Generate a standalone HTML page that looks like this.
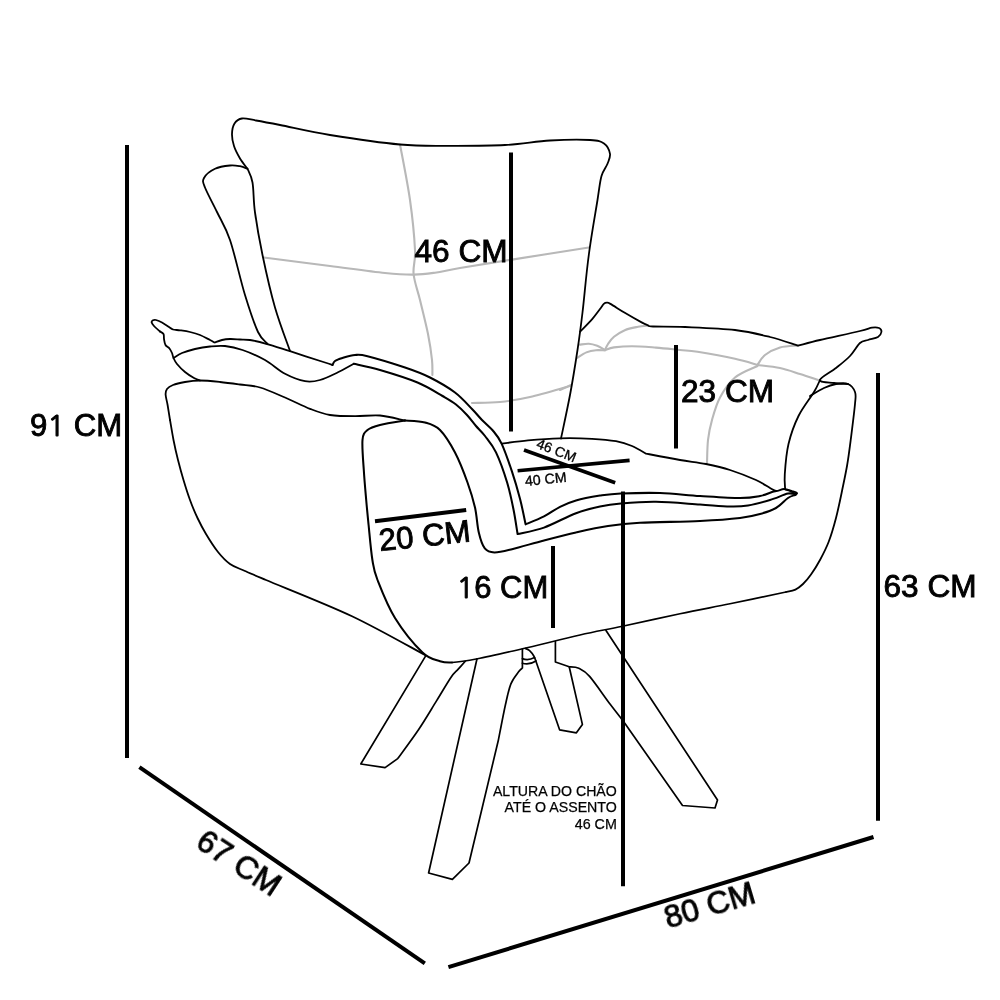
<!DOCTYPE html>
<html lang="pt-BR"><head><meta charset="utf-8"><title>Poltrona - Medidas</title>
<style>html,body{margin:0;padding:0;background:#fff}body{width:1000px;height:1000px;overflow:hidden}svg{display:block}</style>
</head><body>
<svg width="1000" height="1000" viewBox="0 0 1000 1000">
<g fill="none" stroke="#b8b8b8" stroke-width="2.1" stroke-linecap="round">
<path d="M400.0 144.5C401.7 153.8 407.5 182.4 410.0 200.0C412.5 217.6 414.4 237.7 415.0 250.0C415.6 262.3 412.8 265.7 413.6 274.0C414.4 282.3 417.6 290.0 420.0 300.0C422.4 310.0 426.0 324.0 428.0 334.0C430.0 344.0 431.3 353.2 432.0 360.0C432.7 366.8 432.3 372.5 432.4 375.0"/>
<path d="M263.8 257.5C274.8 258.9 309.8 263.4 330.0 266.0C350.2 268.6 371.0 271.6 385.0 273.0C399.0 274.4 405.7 274.7 414.0 274.6C422.3 274.6 427.3 273.8 435.0 272.7C442.7 271.6 447.2 270.2 460.0 268.0C472.8 265.8 490.5 263.0 512.0 259.6C533.5 256.2 576.0 249.5 588.8 247.5"/>
<path d="M472.0 403.0C476.7 402.8 490.3 403.0 500.0 402.0C509.7 401.0 518.3 399.7 530.0 397.0C541.7 394.3 563.3 387.8 570.0 386.0"/>
<path d="M579.8 344.6C581.3 344.5 585.9 343.6 588.8 343.8C591.7 344.0 594.5 344.8 597.2 345.8C599.9 346.8 603.7 349.3 605.0 350.0"/>
<path d="M577.4 357.8C578.9 356.9 583.3 353.7 586.4 352.4C589.5 351.1 592.9 350.5 596.0 350.2C599.1 349.9 603.5 350.4 605.0 350.4"/>
<path d="M605.0 350.0C605.5 349.0 606.5 346.2 608.0 344.0C609.5 341.8 611.2 339.1 614.0 336.8C616.8 334.5 620.8 331.9 624.8 330.2C628.8 328.5 634.1 327.6 638.0 326.8C641.9 326.0 646.3 325.8 648.0 325.6"/>
<path d="M605.0 350.0C606.5 349.6 609.5 348.0 614.0 347.4C618.5 346.8 625.0 346.2 632.0 346.2C639.0 346.2 648.0 347.0 656.0 347.6C664.0 348.2 673.1 349.3 680.0 350.0C686.9 350.7 688.3 350.3 697.5 351.8C706.7 353.3 725.0 356.6 735.0 358.8C745.0 360.9 753.8 364.0 757.5 365.0C758.8 363.3 761.2 357.9 765.0 355.0C768.8 352.1 774.5 349.1 780.0 347.5C785.5 345.9 795.0 345.9 798.0 345.6"/>
<path d="M757.5 365.0C761.2 365.5 772.9 366.5 780.0 368.0C787.1 369.5 793.7 372.0 800.0 374.0C806.3 376.0 815.0 379.0 818.0 380.0"/>
<path d="M757.5 366.0C753.8 367.9 741.2 372.2 735.0 377.5C728.8 382.8 723.8 390.4 720.0 397.5C716.2 404.6 714.0 412.9 712.0 420.0C710.0 427.1 708.8 432.8 708.0 440.0C707.2 447.2 707.2 459.2 707.0 463.0"/>
<path d="M560.0 390.0C561.8 389.2 569.2 385.8 571.0 385.0"/>
</g>
<g fill="none" stroke="#000" stroke-width="1.8" stroke-linejoin="round" stroke-linecap="round">
<path d="M290.0 351.0C287.5 343.8 279.6 323.5 275.0 307.5C270.4 291.5 265.8 270.8 262.5 255.0C259.2 239.2 256.7 224.6 255.0 212.5C253.3 200.4 253.8 189.8 252.5 182.5C251.2 175.2 248.3 171.0 247.5 168.8C246.2 167.0 242.2 162.3 240.0 158.5C237.8 154.7 235.3 150.1 234.0 146.0C232.7 141.9 231.9 137.8 232.0 134.0C232.1 130.2 232.8 126.1 234.5 123.5C236.2 120.9 238.4 119.0 242.0 118.5C245.6 118.0 249.7 119.4 256.0 120.5C262.3 121.6 267.7 122.6 280.0 125.0C292.3 127.4 310.0 131.8 330.0 135.0C350.0 138.2 380.0 142.7 400.0 144.5C420.0 146.3 432.5 145.7 450.0 145.8C467.5 145.8 488.3 145.9 505.0 145.0C521.7 144.1 535.8 141.3 550.0 140.5C564.2 139.7 581.0 139.5 590.0 140.0C599.0 140.5 600.7 141.2 604.0 143.5C607.3 145.8 609.4 150.4 610.0 153.8C610.6 157.1 608.9 160.0 607.5 163.8C606.1 167.5 603.2 170.0 601.5 176.0C599.8 182.0 599.6 186.8 597.5 200.0C595.4 213.2 591.2 236.2 588.8 255.0C586.2 273.8 584.4 296.7 582.5 312.5C580.6 328.3 579.6 336.2 577.5 350.0C575.4 363.8 572.8 380.2 570.0 395.0C567.2 409.8 562.5 431.2 561.0 438.5"/>
<path d="M247.5 168.8C246.2 168.3 242.9 166.7 240.0 166.2C237.1 165.7 234.2 165.1 230.0 165.5C225.8 165.9 219.3 166.7 215.0 168.8C210.7 170.8 205.7 174.9 204.0 178.0C202.3 181.1 202.8 181.8 205.0 187.5C207.2 193.2 212.8 203.2 217.0 212.0C221.2 220.8 225.3 226.2 230.0 240.0C234.7 253.8 240.3 279.7 245.0 295.0C249.7 310.3 254.2 323.9 258.0 332.0C261.8 340.1 265.9 341.8 267.5 343.8"/>
<path d="M160.0 331.5C159.0 330.6 155.4 327.6 154.0 326.0C152.6 324.4 151.8 323.1 151.6 322.2C151.4 321.2 152.3 320.7 153.0 320.3C153.7 319.9 154.5 319.6 156.0 320.0C157.5 320.4 159.8 321.3 162.0 322.5C164.2 323.7 167.2 325.8 169.0 327.0C170.8 328.2 171.2 328.9 173.0 329.5C174.8 330.1 177.2 329.9 180.0 330.3C182.8 330.7 186.7 331.2 190.0 332.0C193.3 332.8 196.7 333.7 200.0 335.0C203.3 336.3 207.6 338.8 210.0 340.0C212.4 341.2 213.8 342.1 214.5 342.5C215.8 342.1 219.4 340.6 222.0 340.0C224.6 339.4 227.0 339.1 230.0 339.0C233.0 338.9 236.7 339.3 240.0 339.5C243.3 339.7 245.6 339.3 250.0 340.0C254.4 340.7 259.6 341.9 266.2 343.8C272.9 345.6 280.2 348.1 290.0 351.2C299.8 354.4 317.9 360.2 325.0 362.5C332.1 364.8 331.2 364.6 332.5 365.0"/>
<path d="M160.0 331.5C160.6 331.9 162.8 332.8 163.5 334.0C164.2 335.2 163.7 337.2 164.0 339.0C164.3 340.8 164.6 343.4 165.5 345.0C166.4 346.6 168.4 347.2 169.5 348.5C170.6 349.8 171.3 351.4 172.0 353.0C172.7 354.6 172.7 356.2 173.5 358.0C174.3 359.8 175.1 361.7 177.0 364.0C178.9 366.3 182.2 369.7 185.0 372.0C187.8 374.3 191.5 376.6 194.0 378.0C196.5 379.4 199.0 380.1 200.0 380.5"/>
<path d="M173.5 358.0C174.9 357.2 178.4 354.5 182.0 353.0C185.6 351.5 190.3 350.1 195.0 349.0C199.7 347.9 205.0 347.0 210.0 346.5C215.0 346.0 219.6 345.4 225.0 346.0C230.4 346.6 235.8 347.7 242.5 350.0C249.2 352.3 257.9 356.0 265.0 360.0C272.1 364.0 278.3 370.2 285.0 373.8C291.7 377.3 299.2 380.2 305.0 381.2C310.8 382.3 314.6 381.5 320.0 380.0C325.4 378.5 331.9 375.2 337.5 372.5C343.1 369.8 351.0 365.2 353.8 363.8"/>
<path d="M501.6 443.6C506.0 443.1 518.3 441.3 528.0 440.4C537.7 439.5 549.3 438.6 560.0 438.3C570.7 438.0 582.7 438.3 592.0 438.8C601.3 439.3 609.3 440.0 616.0 441.2C622.7 442.4 627.0 443.9 632.0 446.0C637.0 448.1 643.7 452.3 646.0 453.6C651.7 454.7 670.0 458.3 680.0 460.0C690.0 461.7 697.7 462.3 706.0 464.0C714.3 465.7 721.7 467.3 730.0 470.0C738.3 472.7 749.3 477.0 756.0 480.0C762.7 483.0 766.7 486.2 770.0 488.0C773.3 489.8 773.7 490.8 776.0 491.0C778.3 491.2 781.3 489.0 784.0 489.0C786.7 489.0 789.8 490.3 792.0 491.0C794.2 491.7 796.5 492.3 797.0 493.0C797.5 493.7 795.3 494.7 795.0 495.0"/>
<path d="M170.0 420.0C169.6 417.5 168.3 409.2 167.6 405.0C166.9 400.8 165.7 397.2 165.6 394.5C165.5 391.8 165.8 390.6 167.0 389.0C168.2 387.4 170.0 386.2 173.0 385.0C176.0 383.8 180.5 382.8 185.0 382.0C189.5 381.2 194.2 380.5 200.0 380.5C205.8 380.5 213.3 381.3 220.0 382.0C226.7 382.7 233.3 383.6 240.0 384.5C246.7 385.4 252.5 385.3 260.0 387.5C267.5 389.7 276.7 394.0 285.0 397.5C293.3 401.0 302.5 405.8 310.0 408.8C317.5 411.7 322.5 413.8 330.0 415.0C337.5 416.2 346.7 416.2 355.0 416.2C363.3 416.3 371.7 414.8 380.0 415.5C388.3 416.2 400.8 419.7 405.0 420.5"/>
<path d="M170.0 420.0C170.6 423.3 172.2 433.3 173.5 440.0C174.8 446.7 176.3 453.3 178.0 460.0C179.7 466.7 181.5 473.3 183.5 480.0C185.5 486.7 187.7 493.7 190.0 500.0C192.3 506.3 194.8 512.3 197.5 518.0C200.2 523.7 202.6 528.3 206.0 534.0C209.4 539.7 214.0 547.0 218.0 552.0C222.0 557.0 225.5 560.8 230.0 564.0C234.5 567.2 239.0 568.3 245.0 571.0C251.0 573.7 248.2 572.5 266.0 580.0C283.8 587.5 325.5 603.8 352.0 616.2C378.5 628.8 412.8 648.5 425.0 655.0"/>
<path d="M820.0 380.0C819.0 382.0 817.6 386.0 814.0 392.0C810.4 398.0 802.8 407.3 798.5 416.0C794.2 424.7 790.8 434.3 788.5 444.0C786.2 453.7 785.3 466.4 784.8 474.0C784.2 481.6 785.1 486.9 785.2 489.5C786.0 489.8 788.2 490.2 790.0 491.0C791.8 491.8 795.0 493.5 796.0 494.0"/>
<path d="M810.0 396.0C812.3 394.7 819.7 390.0 824.0 388.0C828.3 386.0 832.0 384.7 836.0 384.0C840.0 383.3 844.8 382.7 848.0 384.0C851.2 385.3 853.8 388.7 855.0 392.0C856.2 395.3 855.7 396.0 855.0 404.0C854.3 412.0 852.0 429.7 850.7 440.0C849.4 450.3 848.5 457.5 847.0 466.0C845.5 474.5 843.8 482.3 842.0 491.0C840.2 499.7 838.2 509.5 836.0 518.0C833.8 526.5 831.3 535.0 828.6 542.0C825.9 549.0 822.9 554.6 820.0 560.0C817.1 565.4 813.8 570.5 811.0 574.5C808.2 578.5 805.6 581.5 803.0 584.0C800.4 586.5 798.2 588.3 795.4 589.6C792.6 590.9 787.6 591.6 786.0 592.0"/>
<path d="M580.2 331.6C582.2 329.5 589.0 322.7 592.4 318.8C595.8 314.9 598.9 310.5 600.8 308.0C602.7 305.5 602.8 304.8 603.8 303.9C604.8 303.0 605.7 302.7 606.8 302.7C607.9 302.7 607.4 302.2 610.4 303.9C613.4 305.6 619.6 309.7 624.8 312.8C630.0 315.9 637.8 320.3 641.6 322.4C645.4 324.5 645.7 324.5 647.6 325.2C649.5 325.9 646.8 326.2 653.0 326.5C659.2 326.8 671.3 326.4 685.0 327.0C698.7 327.6 720.8 328.3 735.0 330.0C749.2 331.7 759.5 334.4 770.0 337.0C780.5 339.6 793.3 344.2 798.0 345.6C801.7 344.7 809.7 342.4 820.0 340.0C830.3 337.6 851.3 333.1 860.0 331.0C868.7 328.9 868.8 328.1 872.0 327.6C875.2 327.1 877.4 327.3 879.0 328.0C880.6 328.7 881.6 330.5 881.4 332.0C881.2 333.5 880.2 335.7 878.0 337.0C875.8 338.3 871.0 339.0 868.0 340.0C865.0 341.0 863.0 340.3 860.0 343.0C857.0 345.7 854.0 351.8 850.0 356.0C846.0 360.2 841.0 364.0 836.0 368.0C831.0 372.0 820.3 377.5 820.0 380.0C819.7 382.5 829.3 382.3 834.0 383.0C838.7 383.7 845.7 383.8 848.0 384.0"/>
<path stroke-width="2.05" d="M332.5 365.0C332.9 364.3 333.3 362.2 335.0 361.0C336.7 359.8 339.2 359.0 342.5 358.0C345.8 357.0 350.8 355.3 355.0 355.0C359.2 354.7 359.2 354.2 367.5 356.2C375.8 358.3 394.6 364.0 405.0 367.5C415.4 371.0 421.7 373.3 430.0 377.5C438.3 381.7 448.0 387.2 455.0 392.5C462.0 397.8 467.5 404.4 472.0 409.0C476.5 413.6 478.5 416.4 482.0 420.0C485.5 423.6 489.5 426.6 492.8 430.5C496.1 434.4 498.4 436.8 501.6 443.6C504.8 450.5 508.9 462.4 512.0 471.6C515.1 480.8 517.7 490.0 520.0 498.8C522.3 507.6 524.7 520.1 525.6 524.4C528.7 523.1 538.3 519.3 544.0 516.4C549.7 513.5 554.7 509.5 560.0 506.8C565.3 504.1 569.3 502.3 576.0 500.4C582.7 498.5 592.5 496.8 600.0 495.6C607.5 494.5 610.8 493.9 620.8 493.5C630.8 493.1 646.8 492.6 660.0 493.0C673.2 493.4 686.7 495.2 700.0 496.0C713.3 496.8 730.0 498.0 740.0 498.0C750.0 498.0 754.7 497.0 760.0 496.0C765.3 495.0 769.3 492.8 772.0 492.0C774.7 491.2 775.3 491.2 776.0 491.0"/>
<path stroke-width="2.05" d="M353.8 363.8C358.1 364.8 369.4 366.9 380.0 370.0C390.6 373.1 407.1 378.2 417.5 382.5C427.9 386.8 436.1 392.3 442.5 396.0C448.9 399.7 451.9 401.3 456.0 404.5C460.1 407.7 463.7 411.4 467.0 415.0C470.3 418.6 473.0 422.5 476.0 426.0C479.0 429.5 481.7 431.6 485.0 436.0C488.3 440.4 492.3 444.6 496.0 452.4C499.7 460.2 504.3 473.2 507.2 482.8C510.1 492.4 511.9 501.5 513.6 510.0C515.3 518.5 516.9 530.0 517.6 534.0C522.0 532.9 534.3 531.1 544.0 527.6C553.7 524.1 566.7 516.7 576.0 513.2C585.3 509.7 592.5 508.1 600.0 506.5C607.5 504.9 611.5 504.3 620.8 503.5C630.1 502.7 642.8 501.6 656.0 501.8C669.2 502.0 687.7 503.7 700.0 504.5C712.3 505.3 722.0 506.3 730.0 506.5C738.0 506.7 741.3 506.6 748.0 505.5C754.7 504.4 763.3 502.0 770.0 500.0C776.7 498.0 783.7 494.5 788.0 493.6C792.3 492.7 794.7 494.4 796.0 494.5"/>
<path stroke-width="2.05" d="M405.0 420.5C400.8 421.2 386.2 423.4 380.0 425.0C373.8 426.6 370.4 427.5 367.5 430.0C364.6 432.5 363.1 433.3 362.5 440.0C361.9 446.7 363.1 460.0 363.8 470.0C364.4 480.0 365.4 490.8 366.2 500.0C367.0 509.2 367.6 515.0 368.6 525.0C369.6 535.0 370.9 550.8 372.4 560.0C373.9 569.2 373.7 570.3 377.5 580.0C381.3 589.7 387.5 605.9 395.0 618.0C402.5 630.1 415.0 645.3 422.5 652.5C430.0 659.7 435.1 659.6 440.0 661.2C444.9 662.9 445.8 662.9 452.0 662.5"/>
<path stroke-width="2.05" d="M405.0 420.5C408.3 420.8 419.2 420.9 425.0 422.5C430.8 424.1 435.0 425.0 440.0 430.0C445.0 435.0 450.4 443.8 455.0 452.5C459.6 461.2 464.2 473.3 467.5 482.5C470.8 491.7 473.1 499.2 475.0 507.5C476.9 515.8 477.1 525.7 478.8 532.5C480.4 539.3 482.2 545.1 484.8 548.4C487.4 551.7 489.9 552.3 494.4 552.4C498.9 552.5 503.7 551.2 512.0 549.2C520.3 547.2 533.3 543.2 544.0 540.4C554.7 537.6 565.3 534.8 576.0 532.4C586.7 530.0 597.3 527.6 608.0 526.0C618.7 524.4 624.7 523.6 640.0 522.8C655.3 522.0 683.3 521.8 700.0 521.0C716.7 520.2 730.0 519.2 740.0 518.0C750.0 516.8 754.0 515.7 760.0 514.0C766.0 512.3 771.3 510.7 776.0 508.0C780.7 505.3 784.8 500.2 788.0 498.0C791.2 495.8 793.8 495.5 795.0 495.0"/>
<path stroke-width="1.6" d="M452.0 662.5C458.2 662.1 465.8 661.0 477.5 658.8C489.2 656.5 505.4 652.7 522.5 648.8C539.6 644.8 563.3 638.8 580.0 635.0C596.7 631.2 605.8 629.8 622.5 626.2C639.2 622.7 662.1 617.5 680.0 613.8C697.9 610.0 712.3 607.4 730.0 603.8C747.7 600.1 776.7 594.0 786.0 592.0"/>
</g>
<g fill="none" stroke="#000" stroke-width="1.7" stroke-linejoin="round" stroke-linecap="round">
<path d="M425.7 655.9L360.8 764L385.1 767.6L397.7 758.6C401.2 753.8 412.0 739.3 418.5 729.7C425.0 720.1 431.1 709.6 436.5 700.9C441.9 692.2 447.3 682.8 450.9 677.5C454.5 672.2 455.6 672.1 458.0 669.4C460.4 666.7 464.1 662.6 465.3 661.3"/>
<path d="M477.0 658.8L428.6 873.0L452.4 879.4L469.0 863.0L498.4 740.0M498.4 740.0C499.6 734.0 503.5 713.4 505.6 704.0C507.7 694.6 508.8 689.0 511.0 683.6C513.2 678.2 516.9 674.2 518.8 671.6C520.7 669.0 521.8 668.6 522.4 668.0L522.4 649"/>
<path d="M525.5 648.5C526.2 648.9 528.2 649.4 529.6 650.6C531.0 651.9 532.7 654.1 533.8 656.0C534.9 657.9 535.8 661.0 536.2 662.0L559.6 729.8L576.4 732.8L582.4 724.4L569.2 666.8L555.4 662L555.4 641.6"/>
<path d="M522.4 658.6Q528 661 534.6 657.6M522.4 663.2Q529 665.4 536 661"/>
<path d="M569.2 666.8C570.8 667.0 575.4 666.6 578.8 668.2C582.2 669.8 584.4 670.4 589.6 676.4C594.8 682.4 604.5 696.7 610.0 704.0C615.5 711.3 620.4 717.3 622.5 720.0L682.5 805.5L715 808L717.5 800L606 630.5"/>
</g>
<g stroke="#000">
<line x1="127.0" y1="145.0" x2="127.0" y2="758.0" stroke-width="4.0"/>
<line x1="511.0" y1="152.5" x2="511.0" y2="431.5" stroke-width="4.0"/>
<line x1="676.0" y1="345.0" x2="676.0" y2="448.5" stroke-width="4.0"/>
<line x1="878.0" y1="373.0" x2="878.0" y2="820.8" stroke-width="4.0"/>
<line x1="553.0" y1="546.0" x2="553.0" y2="628.0" stroke-width="4.0"/>
<line x1="623.0" y1="491.6" x2="623.0" y2="886.3" stroke-width="4.0"/>
<line x1="139.4" y1="767.2" x2="424.8" y2="963.4" stroke-width="4.0"/>
<line x1="448.4" y1="967.2" x2="873.5" y2="837.0" stroke-width="4.0"/>
<line x1="375.0" y1="521.2" x2="466.2" y2="510.0" stroke-width="4.0"/>
<line x1="524.0" y1="450.0" x2="615.2" y2="482.8" stroke-width="3.6"/>
<line x1="517.6" y1="470.8" x2="629.6" y2="460.4" stroke-width="3.6"/>
</g>
<g font-family="'Liberation Sans', Arial, sans-serif" fill="#000" stroke="#000" stroke-width="0.9" opacity="0.999">
<text x="30.0" y="436.1" font-size="31" textLength="92.2" lengthAdjust="spacingAndGlyphs">9<tspan font-family="NanumGothic, 'Liberation Sans', sans-serif" font-size="29.2" stroke-width="1.1">1</tspan> CM</text>
<text x="414.5" y="262.4" font-size="31" textLength="93" lengthAdjust="spacingAndGlyphs">46 CM</text>
<text x="681.0" y="402.3" font-size="31" textLength="93" lengthAdjust="spacingAndGlyphs">23 CM</text>
<text x="883.5" y="596.8" font-size="31" textLength="93" lengthAdjust="spacingAndGlyphs">63 CM</text>
<text x="456.6" y="598.0" font-size="31" textLength="91.6" lengthAdjust="spacingAndGlyphs"><tspan font-family="NanumGothic, 'Liberation Sans', sans-serif" font-size="29.2" stroke-width="1.1">1</tspan>6 CM</text>
<text transform="translate(380.0 551.0) rotate(-6)" font-size="31" textLength="92" lengthAdjust="spacingAndGlyphs">20 CM</text>
<text transform="translate(194.2 846.3) rotate(33.2)" font-size="31" textLength="93" lengthAdjust="spacingAndGlyphs">67 CM</text>
<text transform="translate(668.0 928.6) rotate(-16.5)" font-size="31" textLength="93" lengthAdjust="spacingAndGlyphs">80 CM</text>
<text transform="translate(535.5 447.4) rotate(21.5)" font-size="14" stroke-width="0.35">46 CM</text>
<text transform="translate(525.4 486.0) rotate(-5.8)" font-size="14.2" stroke-width="0.35">40 CM</text>
<text x="616.8" y="796.10" font-size="14.15" text-anchor="end" stroke-width="0.25">ALTURA DO CHÃO</text>
<text x="616.8" y="812.40" font-size="14.2" text-anchor="end" stroke-width="0.25">ATÉ O ASSENTO</text>
<text x="616.8" y="829.20" font-size="14.3" text-anchor="end" stroke-width="0.25">46 CM</text>
</g></svg>
</body></html>
